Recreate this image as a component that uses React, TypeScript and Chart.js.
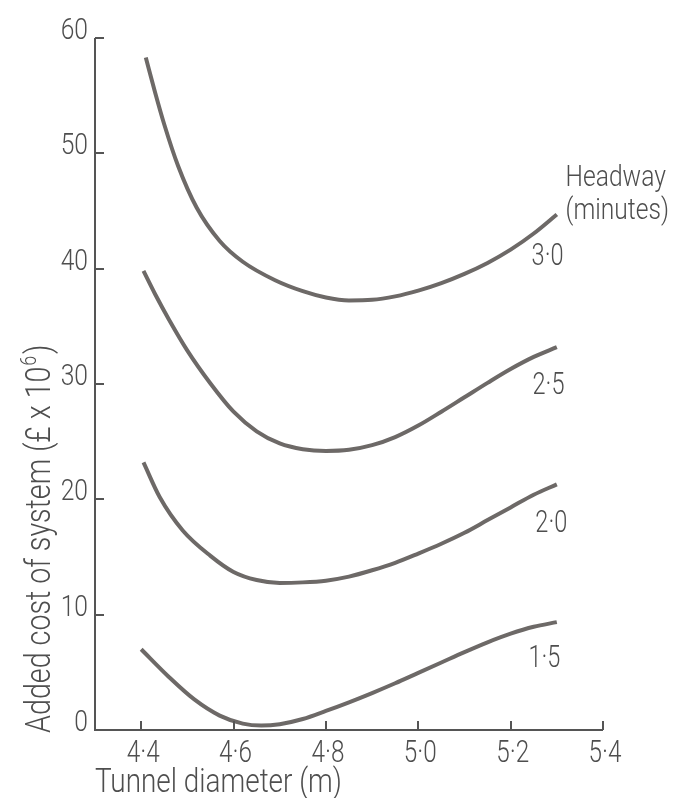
import React, { useEffect, useRef } from 'react';
import { Chart, registerables } from 'chart.js';

Chart.register(...registerables);

// ---- Data ----
const headways = ['3·0', '2·5', '2·0', '1·5'];

const diam30 = [4.41, 4.43, 4.45, 4.48, 4.52, 4.57, 4.62, 4.69, 4.75, 4.80, 4.85, 4.90, 4.95, 5.00, 5.05, 5.10, 5.15, 5.20, 5.25, 5.30];
const cost30 = [58.3, 55.3, 52.5, 48.9, 45.3, 42.4, 40.6, 39.0, 38.05, 37.5, 37.25, 37.3, 37.6, 38.1, 38.75, 39.55, 40.5, 41.65, 43.05, 44.7];

const diam25 = [4.405, 4.43, 4.46, 4.50, 4.55, 4.60, 4.65, 4.70, 4.75, 4.80, 4.85, 4.90, 4.95, 5.00, 5.05, 5.10, 5.15, 5.20, 5.25, 5.30];
const cost25 = [39.8, 37.8, 35.6, 32.9, 30.05, 27.6, 25.9, 24.85, 24.35, 24.2, 24.3, 24.7, 25.4, 26.4, 27.6, 28.85, 30.1, 31.3, 32.35, 33.2];

const diam20 = [4.405, 4.44, 4.49, 4.55, 4.60, 4.65, 4.70, 4.75, 4.80, 4.85, 4.90, 4.95, 5.00, 5.05, 5.10, 5.15, 5.20, 5.25, 5.30];
const cost20 = [23.2, 20.2, 17.3, 15.1, 13.7, 13.0, 12.75, 12.8, 12.95, 13.3, 13.85, 14.5, 15.3, 16.15, 17.1, 18.2, 19.3, 20.4, 21.3];

const diam15 = [4.40, 4.46, 4.515, 4.57, 4.62, 4.66, 4.70, 4.75, 4.80, 4.85, 4.90, 4.95, 5.00, 5.05, 5.10, 5.15, 5.20, 5.25, 5.30];
const cost15 = [7.0, 4.6, 2.65, 1.25, 0.55, 0.38, 0.5, 0.95, 1.65, 2.4, 3.2, 4.05, 4.95, 5.85, 6.75, 7.6, 8.35, 8.95, 9.35];

const xTickValues = [4.4, 4.6, 4.8, 5.0, 5.2, 5.4];
const xTickLabels = ['4·4', '4·6', '4·8', '5·0', '5·2', '5·4'];
const yTickValues = [0, 10, 20, 30, 40, 50, 60];
const yTickLabels = ['0', '10', '20', '30', '40', '50', '60'];

const xTitle = 'Tunnel diameter (m)';
const yTitleMain = 'Added cost of system (£ x 10';
const yTitleSup = '6';
const yTitleEnd = ')';
const legendTitle = ['Headway', '(minutes)'];

// ---- Styles ----
const FONT = "Roboto, 'Liberation Sans', sans-serif";
const WEIGHT = '300';
const TEXT_COLOR = '#4e4e4e';
const AXIS_COLOR = '#555555';
const CURVE_COLOR = '#6d6967';

const X_MIN = 4.3;
const X_MAX = 5.4;
const Y_MIN = 0;
const Y_MAX = 60;

// label anchors (data coordinates)
const curveLabelAnchors = [
  { x: 5.280, y: 41.3 },
  { x: 5.282, y: 30.1 },
  { x: 5.288, y: 18.1 },
  { x: 5.273, y: 6.4 },
];
const legendAnchors = [
  { x: 5.319, y: 47.2 },
  { x: 5.319, y: 44.3 },
];

function drawText(
  ctx: CanvasRenderingContext2D,
  text: string,
  x: number,
  y: number,
  size: number,
  sx: number,
  align: CanvasTextAlign,
  baseline: CanvasTextBaseline = 'alphabetic'
) {
  ctx.save();
  ctx.translate(x, y);
  ctx.scale(sx, 1);
  ctx.font = `${WEIGHT} ${size}px ${FONT}`;
  ctx.textAlign = align;
  ctx.textBaseline = baseline;
  ctx.fillText(text, 0, 0);
  ctx.restore();
}

const decorPlugin = {
  id: 'decor',
  afterDraw(chart: any) {
    const { ctx } = chart;
    const xs = chart.scales.x;
    const ys = chart.scales.y;
    const x0 = xs.getPixelForValue(X_MIN);
    const x1 = xs.getPixelForValue(X_MAX);
    const y0 = ys.getPixelForValue(Y_MIN);
    const y1 = ys.getPixelForValue(Y_MAX);
    ctx.save();
    ctx.strokeStyle = AXIS_COLOR;
    ctx.lineWidth = 2;
    ctx.lineCap = 'butt';
    ctx.beginPath();
    ctx.moveTo(x0, y1);
    ctx.lineTo(x0, y0);
    ctx.lineTo(x1, y0);
    ctx.stroke();
    // inside ticks
    ctx.beginPath();
    yTickValues.forEach((v) => {
      if (v === Y_MIN) return;
      const py = Math.round(ys.getPixelForValue(v));
      ctx.moveTo(x0, py);
      ctx.lineTo(x0 + 9, py);
    });
    xTickValues.forEach((v) => {
      const px = Math.round(xs.getPixelForValue(v));
      ctx.moveTo(px, y0);
      ctx.lineTo(px, y0 - 9);
    });
    ctx.stroke();

    ctx.fillStyle = TEXT_COLOR;
    // tick labels
    yTickValues.forEach((v, i) => {
      drawText(ctx, yTickLabels[i], x0 - 7, ys.getPixelForValue(v) + 1, 30, 0.82, 'right');
    });
    xTickValues.forEach((v, i) => {
      drawText(ctx, xTickLabels[i], xs.getPixelForValue(v) + 2, y0 + 32, 32, 0.76, 'center');
    });
    // curve labels
    headways.forEach((h, i) => {
      const a = curveLabelAnchors[i];
      drawText(ctx, h, xs.getPixelForValue(a.x), ys.getPixelForValue(a.y) + 11, 31, 0.76, 'center');
    });
    // legend title
    legendTitle.forEach((t, i) => {
      const a = legendAnchors[i];
      drawText(ctx, t, xs.getPixelForValue(a.x), ys.getPixelForValue(a.y), 30, 0.82, 'left');
    });
    // x title
    drawText(ctx, xTitle, x0, 792, 34, 0.82, 'left');
    // y title (rotated)
    ctx.save();
    ctx.translate(50, 733);
    ctx.rotate(-Math.PI / 2);
    ctx.scale(0.82, 1);
    ctx.textAlign = 'left';
    ctx.textBaseline = 'alphabetic';
    ctx.font = `${WEIGHT} 35px ${FONT}`;
    const w1 = ctx.measureText(yTitleMain).width;
    ctx.fillText(yTitleMain, 0, 0);
    ctx.font = `${WEIGHT} 22px ${FONT}`;
    const w2 = ctx.measureText(yTitleSup).width;
    ctx.fillText(yTitleSup, w1 + 1, -14);
    ctx.font = `${WEIGHT} 35px ${FONT}`;
    ctx.fillText(yTitleEnd, w1 + w2 + 3, 0);
    ctx.restore();
    ctx.restore();
  },
};

function makeSeries(xs: number[], ys: number[]) {
  return xs.map((x, i) => ({ x, y: ys[i] }));
}

export default function App() {
  const ref = useRef<HTMLCanvasElement | null>(null);
  useEffect(() => {
    if (!ref.current) return;
    const series = [
      makeSeries(diam30, cost30),
      makeSeries(diam25, cost25),
      makeSeries(diam20, cost20),
      makeSeries(diam15, cost15),
    ];
    const chart = new Chart(ref.current, {
      type: 'line',
      data: {
        datasets: series.map((d, i) => ({
          label: headways[i],
          data: d,
          borderColor: CURVE_COLOR,
          borderWidth: 4,
          pointRadius: 0,
          fill: false,
          cubicInterpolationMode: 'monotone' as const,
          borderCapStyle: 'butt' as const,
        })),
      },
      options: {
        responsive: false,
        animation: false,
        events: [],
        layout: { padding: { top: 38, right: 71, left: 0, bottom: 0 } },
        plugins: {
          legend: { display: false },
          tooltip: { enabled: false },
        },
        scales: {
          x: {
            type: 'linear',
            min: X_MIN,
            max: X_MAX,
            afterBuildTicks: (s: any) => {
              s.ticks = xTickValues.map((v) => ({ value: v }));
            },
            afterFit: (s: any) => {
              s.height = 68;
            },
            grid: { display: false, drawTicks: false },
            border: { display: false },
            ticks: { display: false },
          },
          y: {
            type: 'linear',
            min: Y_MIN,
            max: Y_MAX,
            afterBuildTicks: (s: any) => {
              s.ticks = yTickValues.map((v) => ({ value: v }));
            },
            afterFit: (s: any) => {
              s.width = 95;
            },
            grid: { display: false, drawTicks: false },
            border: { display: false },
            ticks: { display: false },
          },
        },
      },
      plugins: [decorPlugin],
    });
    return () => chart.destroy();
  }, []);
  return (
    <div style={{ position: 'absolute', left: 0, top: 0, width: 674, height: 798, background: '#fff' }}>
      <canvas ref={ref} width={674} height={798} style={{ display: 'block' }} />
    </div>
  );
}
